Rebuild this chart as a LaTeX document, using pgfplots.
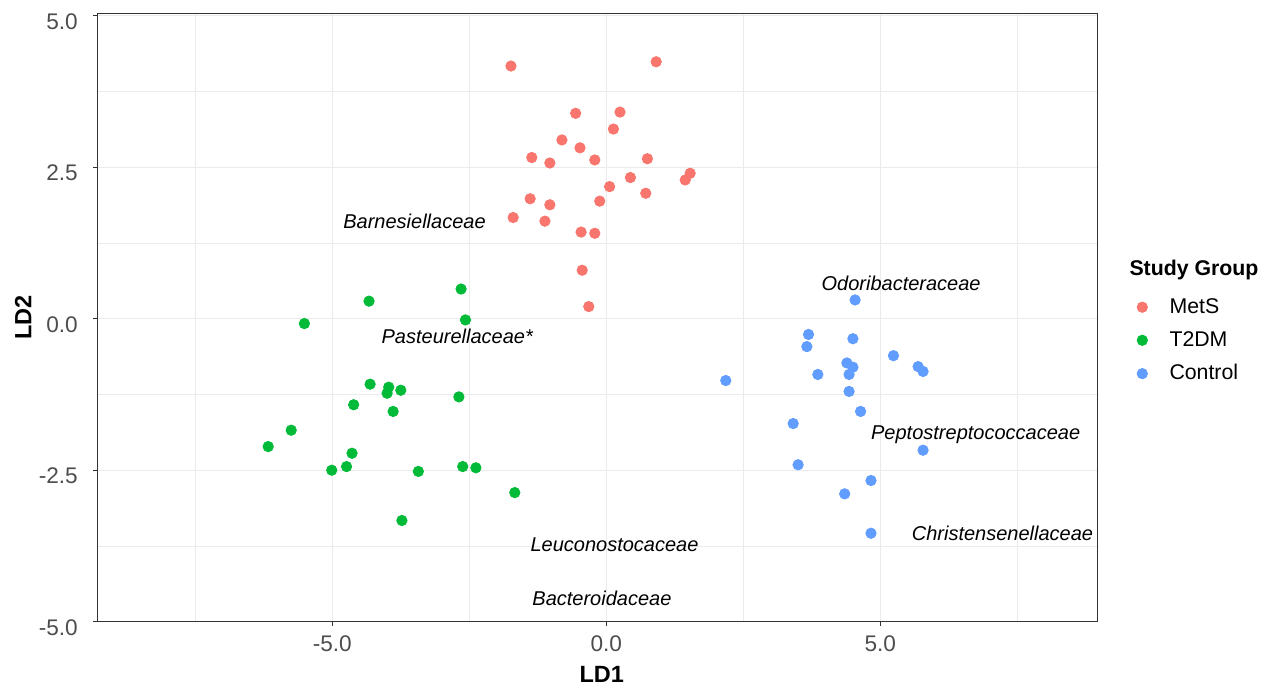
\documentclass[border=0pt]{standalone}
\usepackage{pgfplots}
\pgfplotsset{compat=1.18}
\usepackage{fontspec}
\setmainfont{Liberation Sans}
\definecolor{mets}{HTML}{F8766D}
\definecolor{t2dm}{HTML}{00BA38}
\definecolor{ctrl}{HTML}{619CFF}
\definecolor{gridc}{HTML}{EBEBEB}
\definecolor{axc}{HTML}{333333}
\definecolor{tickc}{HTML}{4D4D4D}
\begin{document}
\begin{tikzpicture}
\useasboundingbox (-48.85pt,-31.65pt) rectangle (585.65pt,310.85pt);
\begin{axis}[
  at={(0,0)}, anchor=south west,
  scale only axis, width=500pt, height=304.35pt,
  xmin=-9.281, xmax=8.967, ymin=-5, ymax=5.045,
  xtick={-5,0,5}, xticklabels={-5.0,0.0,5.0},
  ytick={-5,-2.5,0,2.5,5}, yticklabels={-5.0,-2.5,0.0,2.5,5.0},
  minor xtick={-7.5,-2.5,2.5,7.5}, minor ytick={-3.75,-1.25,1.25,3.75},
  grid=both,
  major grid style={gridc, line width=0.6pt},
  minor grid style={gridc, line width=0.35pt},
  minor tick length=0pt, major tick length=2.2pt,
  tick align=outside, tick pos=left,
  major tick style={axc, line width=0.5pt},
  axis line style={axc, line width=0.5pt},
  ticklabel style={font=\fontsize{11.3}{13}\selectfont, text=tickc, inner sep=0pt},
  xticklabel style={anchor=north, yshift=-4.45pt},
  yticklabel style={anchor=east, xshift=-7.6pt, yshift=-2.9pt},
  xlabel={\textbf{LD1}}, ylabel={\textbf{LD2}},
  label style={font=\fontsize{11.75}{13}\selectfont, inner sep=0pt},
  xlabel style={at={(axis description cs:0.504,0)}, anchor=north, yshift=-22pt},
  ylabel style={at={(axis description cs:-0.066,0.5)}, anchor=south, rotate=0},
  clip mode=individual,
  legend style={at={(axis description cs:1.039,0.532)}, anchor=north west,
    draw=none, fill=none, inner sep=0pt, row sep=7.6pt,
    font=\fontsize{10.65}{12}\selectfont, nodes={inner sep=0pt}},
  legend cell align=left,
  legend image code/.code={\path[draw=none,fill=none] (0pt,0pt) -- (16.2pt,0pt); \draw[#1] plot coordinates {(2.6pt,0pt)};},
]
\addplot[only marks, mark=*, mark size=2.6pt, draw=mets, fill=mets] coordinates {
(-1.74,4.17) (0.91,4.24) (-0.56,3.39) (0.25,3.41) (0.13,3.13) (-0.81,2.95)
(-0.48,2.82) (-1.36,2.66) (-1.03,2.57) (-0.21,2.62) (0.75,2.64) (1.53,2.40)
(1.44,2.29) (0.44,2.33) (0.06,2.18) (0.72,2.07) (-1.39,1.98) (-1.03,1.88)
(-0.12,1.94) (-1.70,1.67) (-1.12,1.61) (-0.46,1.43) (-0.21,1.41) (-0.44,0.80)
(-0.32,0.20)
};
\addlegendentry{MetS}
\addplot[only marks, mark=*, mark size=2.6pt, draw=t2dm, fill=t2dm] coordinates {
(-2.65,0.49) (-4.33,0.29) (-5.51,-0.08) (-2.57,-0.02) (-4.31,-1.08) (-3.97,-1.13)
(-4.00,-1.23) (-3.75,-1.18) (-2.69,-1.29) (-4.61,-1.42) (-3.89,-1.53) (-5.75,-1.84)
(-6.17,-2.11) (-4.64,-2.22) (-5.01,-2.50) (-4.74,-2.44) (-3.43,-2.52) (-2.62,-2.44)
(-2.38,-2.46) (-1.67,-2.87) (-3.73,-3.33)
};
\addlegendentry{T2DM}
\addplot[only marks, mark=*, mark size=2.6pt, draw=ctrl, fill=ctrl] coordinates {
(4.54,0.31) (3.69,-0.26) (4.50,-0.33) (3.66,-0.46) (5.24,-0.61) (4.39,-0.73)
(4.50,-0.80) (4.43,-0.92) (5.69,-0.79) (5.78,-0.87) (3.86,-0.92) (2.18,-1.02)
(4.43,-1.20) (4.64,-1.53) (3.41,-1.73) (5.78,-2.17) (3.50,-2.41) (4.83,-2.67)
(4.35,-2.89) (4.83,-3.54)
};
\addlegendentry{Control}
\begin{scope}[every node/.style={font=\fontsize{10}{12}\selectfont\itshape, inner sep=0pt, anchor=base}]
\node at (axis cs:-3.50,1.49) {Barnesiellaceae};
\node at (axis cs:5.38,0.462) {Odoribacteraceae};
\node at (axis cs:-2.72,-0.417) {Pasteurellaceae*};
\node at (axis cs:6.74,-2.00) {Peptostreptococcaceae};
\node at (axis cs:7.23,-3.66) {Christensenellaceae};
\node at (axis cs:0.15,-3.84) {Leuconostocaceae};
\node at (axis cs:-0.08,-4.74) {Bacteroidaceae};
\end{scope}
\node[anchor=base west, inner sep=0pt, font=\fontsize{10.65}{12}\selectfont\bfseries] at (axis description cs:1.0314,0.5684) {Study Group};
\end{axis}
\end{tikzpicture}
\end{document}
